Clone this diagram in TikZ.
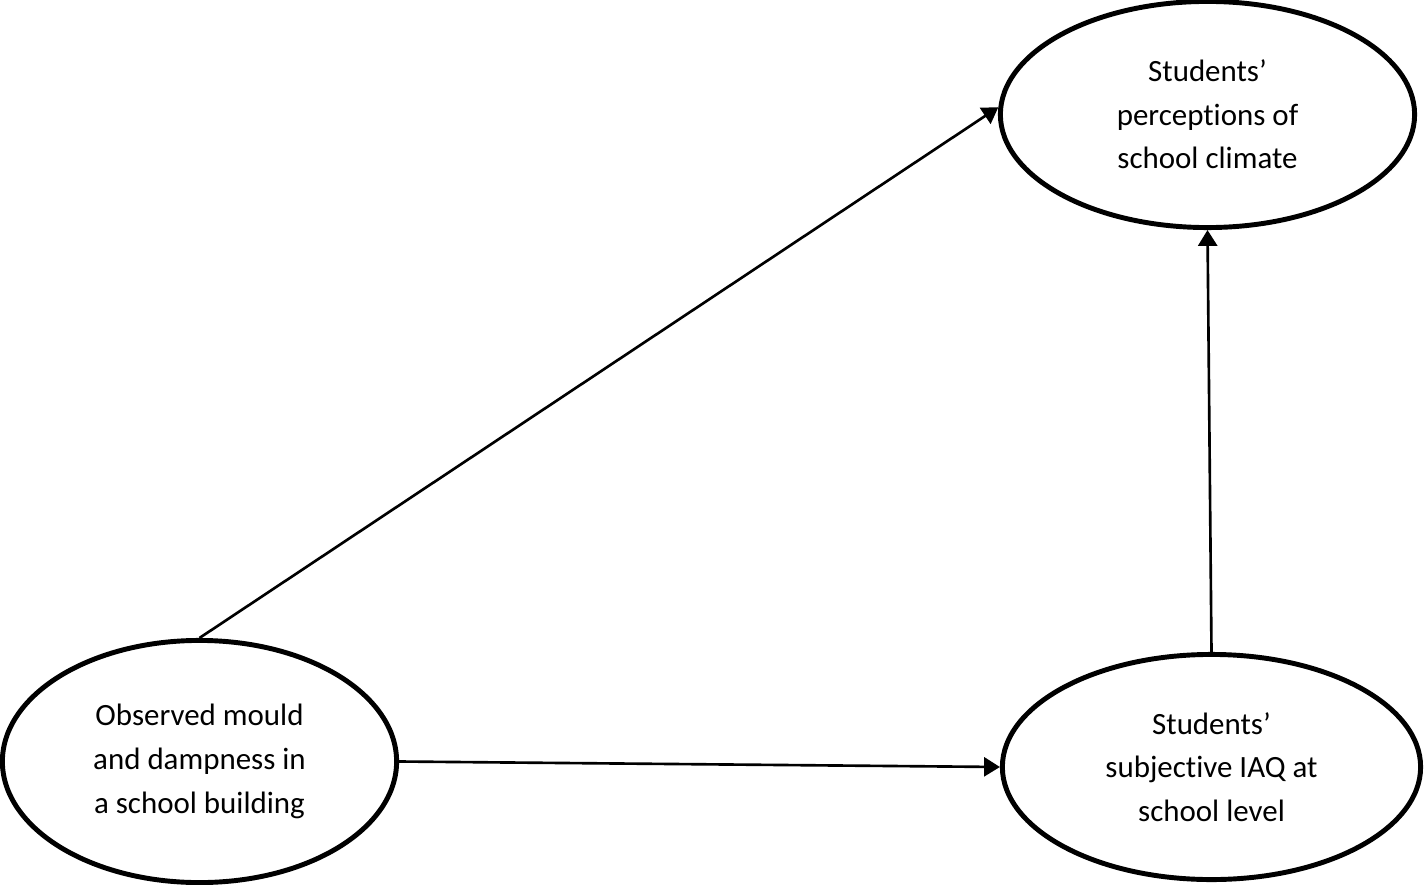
\documentclass[tikz,border=0pt]{standalone}
\usepackage{fontspec}
\setmainfont{Carlito}[Ligatures={TeX,NoCommon}]
\usetikzlibrary{shapes.geometric,arrows.meta}

\begin{document}
\begin{tikzpicture}[x=0.01cm,y=-0.01cm,
  factor/.style={ellipse,draw,line width=1.4pt,inner sep=0pt,align=center,
    font=\fontsize{8.8}{12.4}\selectfont},
  link/.style={-{Triangle[length=4.5pt,width=5.4pt]},line width=0.75pt}]

  % Page size (pixels of the original figure)
  \useasboundingbox (0,0) rectangle (1424,885);

  % The three constructs
  \node[factor,minimum width=3.94cm,minimum height=2.42cm] (mould) at (199.5,761.5)
    {Observed mould\\and dampness in\\a school building};
  \node[factor,minimum width=4.14cm,minimum height=2.26cm] (climate) at (1207.5,114.5)
    {Students’\\perceptions of\\school climate};
  \node[factor,minimum width=4.18cm,minimum height=2.25cm] (iaq) at (1211.5,767)
    {Students’\\subjective IAQ at\\school level};

  % Paths of the model
  \draw[link] (mould.north) -- (climate.178);
  \draw[link] (mould.east) -- (iaq.west);
  \draw[link] (iaq.north) -- (climate.south);

\end{tikzpicture}
\end{document}
